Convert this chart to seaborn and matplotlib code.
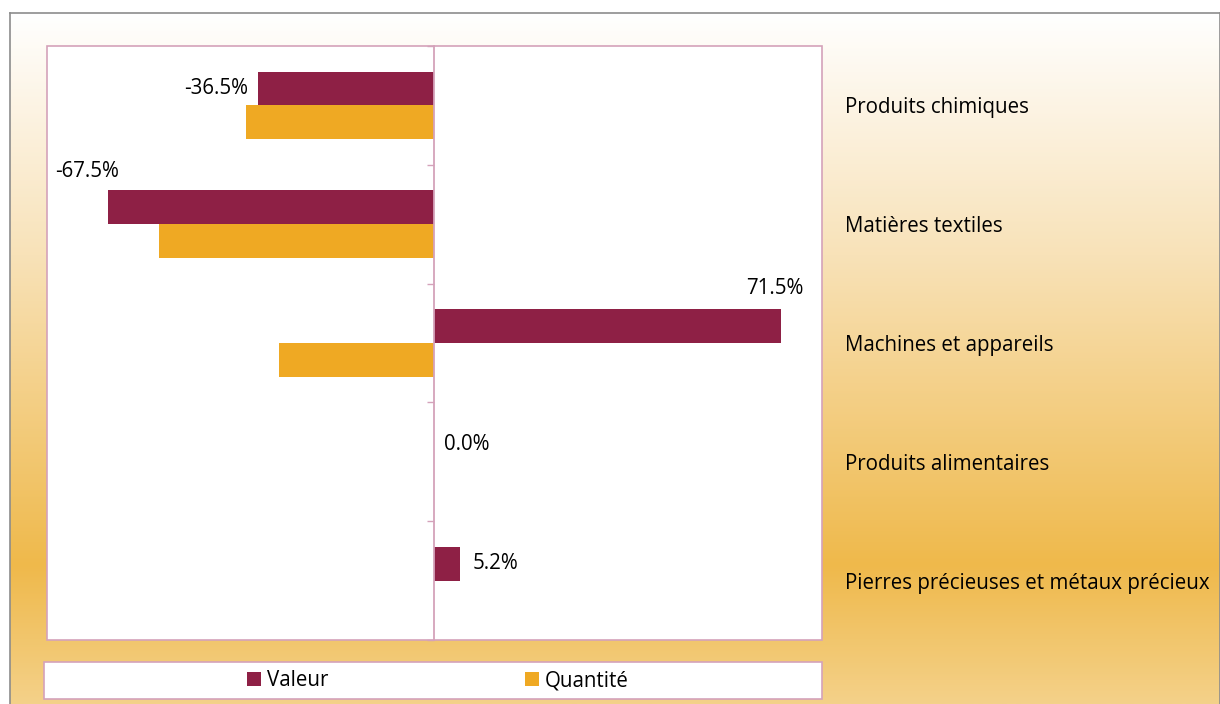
import numpy as np
import pandas as pd
import matplotlib
matplotlib.use("Agg")
import matplotlib.pyplot as plt
import seaborn as sns
from matplotlib.colors import LinearSegmentedColormap
from matplotlib.patches import Rectangle, Patch

categories = [
    "Produits chimiques",
    "Matières textiles",
    "Machines et appareils",
    "Produits alimentaires",
    "Pierres précieuses et métaux précieux",
]
valeur = [-36.5, -67.5, 71.5, 0.0, 5.2]
quantite = [-38.9, -56.8, -32.0, 0.0, 0.0]
series = ["Valeur", "Quantité"]
colors = {"Valeur": "#8E2045", "Quantité": "#EFA923"}

df = pd.DataFrame({
    "categorie": categories * 2,
    "serie": [series[0]] * len(categories) + [series[1]] * len(categories),
    "variation": valeur + quantite,
})

sns.set_style("white")
plt.rcParams["font.family"] = ["Open Sans", "DejaVu Sans"]
plt.rcParams["text.color"] = "black"
plt.rcParams["ytick.labelcolor"] = "black"
FS = 14.8
pink = "#D4A2BA"

W, H = 1220, 704
fig = plt.figure(figsize=(W / 100, H / 100), dpi=100)
fig.patch.set_facecolor("white")

# gradient background with grey border
bg = fig.add_axes([10 / W, 0, (W - 10) / W, (H - 13) / H], zorder=0)
grad_cmap = LinearSegmentedColormap.from_list(
    "bg", [(0.0, "#FFFFFF"), (0.35, "#F8E2B8"), (0.8, "#EFB94B"), (1.0, "#F4D189")])
bg.imshow(np.linspace(0, 1, 256).reshape(-1, 1), cmap=grad_cmap, aspect="auto",
          extent=[0, 1, 1, 0])
bg.set_xticks([]); bg.set_yticks([])
for s in bg.spines.values():
    s.set_color("#8C8C8C"); s.set_linewidth(1.2)
bg.spines["bottom"].set_visible(False)

# main plot
ax = fig.add_axes([47 / W, (H - 640) / H, 775 / W, 594 / H], zorder=2)
ax.set_facecolor("white")
sns.barplot(data=df, x="variation", y="categorie", hue="serie", orient="h",
            palette=colors, width=0.57, linewidth=0, saturation=1, ax=ax,
            legend=False, errorbar=None)
ax.set_xlim(-80, 80)
ax.set_ylim(len(categories) - 0.5, -0.5)
ax.set_xlabel(""); ax.set_ylabel("")
ax.set_xticks([])

for s in ["top", "right", "bottom"]:
    ax.spines[s].set_visible(False)
ax.spines["left"].set_position(("data", 0))
ax.spines["left"].set_color(pink)
ax.spines["left"].set_linewidth(1.3)
ax.add_patch(Rectangle((0, 0), 1, 1, transform=ax.transAxes, fill=False,
                       edgecolor=pink, linewidth=1.2, clip_on=False, zorder=5))

ax.set_yticks(range(len(categories)))
ax.set_yticklabels(categories, fontsize=FS, color="black")
ax.set_yticks(np.arange(-0.5, len(categories)), minor=True)
ax.tick_params(axis="y", which="major", left=False, right=False,
               labelleft=False, labelright=True, pad=13)
ax.tick_params(axis="y", which="minor", left=True, right=False, length=5,
               width=1, color=pink, direction="out")

# data labels for Valeur (offsets in points, ha)
label_pos = [(-7, 0, "right"), (-15, 26, "center"), (16, 27, "right"),
             (7, 0, "left"), (9, 0, "left")]
val_bars = ax.containers[0]
for bar, v, (dx, dy, ha) in zip(val_bars, valeur, label_pos):
    yc = bar.get_y() + bar.get_height() / 2
    ax.annotate(f"{v:.1f}%", xy=(v, yc), xytext=(dx, dy), textcoords="offset points",
                ha=ha, va="center", fontsize=FS, color="black")

# legend box
fig.add_artist(Rectangle((44 / W, (H - 699) / H), 778 / W, 37 / H, transform=fig.transFigure,
                         facecolor="white", edgecolor=pink, linewidth=1.2, zorder=3))
handles = [Patch(facecolor=colors[s], edgecolor="none") for s in series]
leg = fig.legend(handles, series, loc="center", bbox_to_anchor=(438 / W, (H - 681) / H),
                 ncol=2, frameon=False, fontsize=FS, handlelength=0.65, handleheight=0.65,
                 handletextpad=0.3, columnspacing=9.6)
leg.set_zorder(4)

fig.savefig("out.png", dpi=100)
